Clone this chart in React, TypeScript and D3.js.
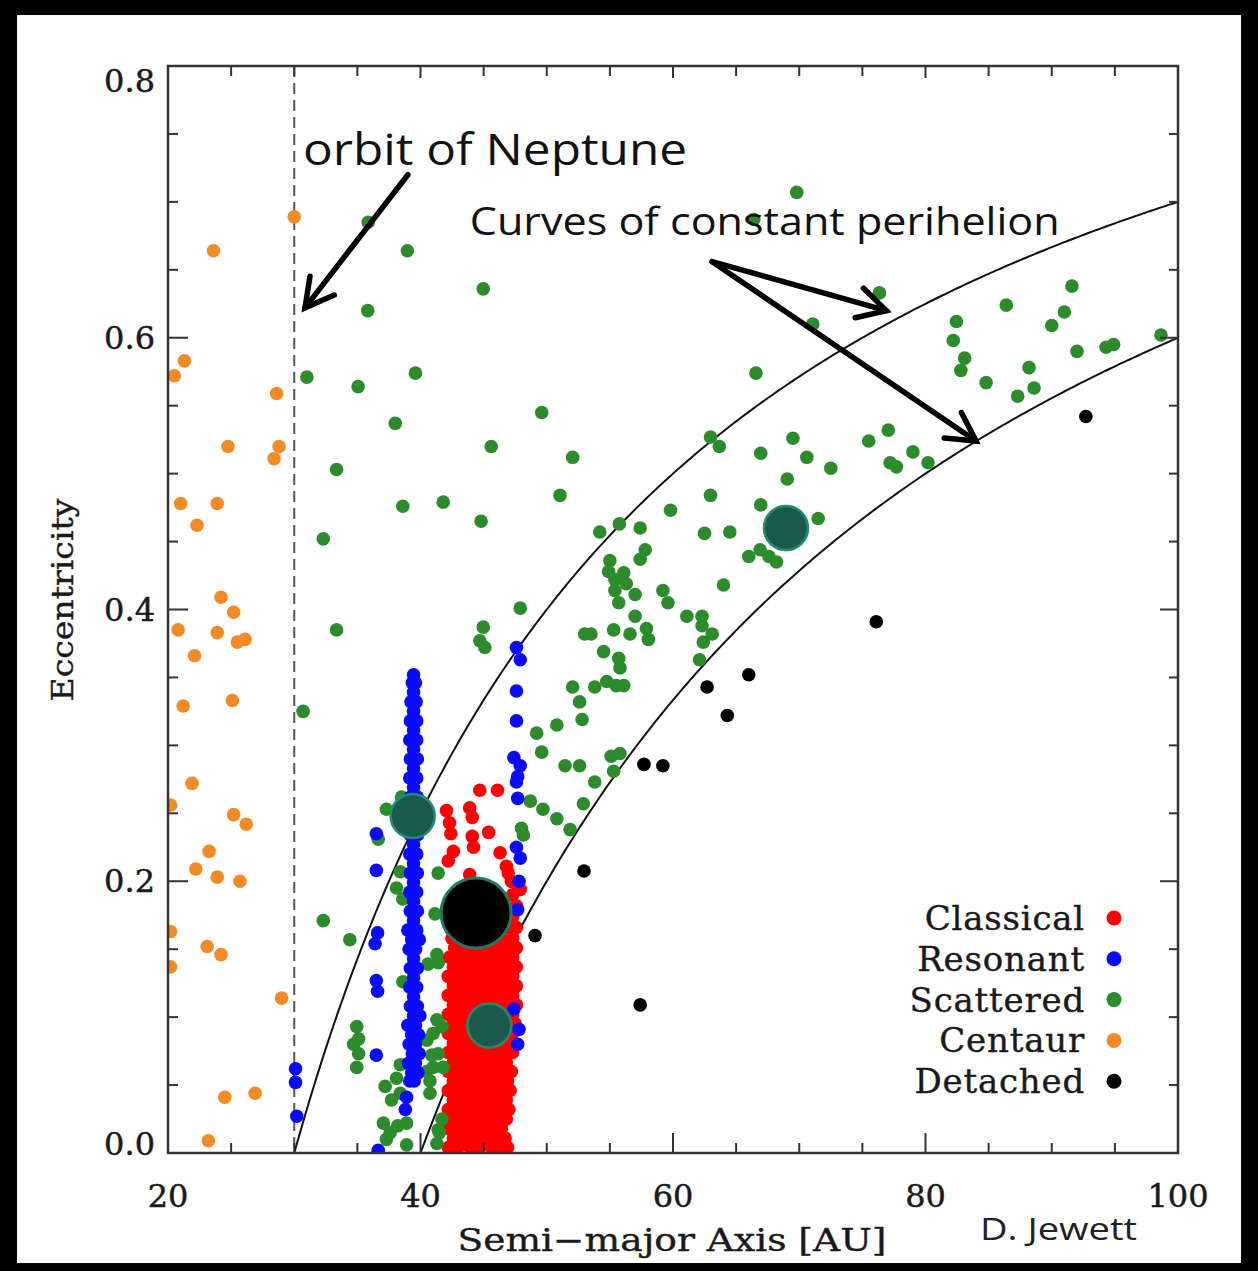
import React from "react";
import * as d3 from "d3";

// ---------------- data ----------------
const xMajorTicks = [20, 40, 60, 80, 100];
const xMinorTicks = [25, 30, 35, 45, 50, 55, 65, 70, 75, 85, 90, 95];
const yMajorTicks = [0, 0.2, 0.4, 0.6, 0.8];
const yMinorTicks = [0.05, 0.1, 0.15, 0.25, 0.3, 0.35, 0.45, 0.5, 0.55, 0.65, 0.7, 0.75];
const perihelionCurves = [30, 40];
const neptuneOrbit = 30;
const categories = ["Classical", "Resonant", "Scattered", "Centaur", "Detached"];

// Classical belt: sparse upper members [a, e]
const classicalSparse: [number, number][] = [
  [44.7, 0.267], [46.1, 0.267], [42.06, 0.252], [42.3, 0.243], [43.9, 0.254], [44.1, 0.247],
  [42.4, 0.235], [44.1, 0.233], [45.4, 0.236], [44.2, 0.225], [42.6, 0.222], [42.2, 0.215],
  [46.3, 0.221], [46.8, 0.211], [46.95, 0.206], [43.9, 0.205], [47.2, 0.2], [47.6, 0.199], [47.9, 0.194],
];
// Classical belt: dense core, listed row by row (e, then the a values in that row)
const classicalCore: [number, number[]][] = [
  [0.004, [42.2, 43.0, 43.9, 44.7, 45.6, 46.4, 46.9]],
  [0.011, [42.6, 43.5, 44.3, 45.1, 46.0, 46.7]],
  [0.018, [42.2, 43.1, 43.9, 44.8, 45.6, 46.4]],
  [0.025, [42.5, 43.4, 44.3, 45.2, 46.0, 46.8]],
  [0.032, [42.2, 43.0, 43.9, 44.7, 45.6, 46.5, 47.0]],
  [0.039, [42.6, 43.5, 44.3, 45.1, 46.0, 46.8]],
  [0.046, [42.2, 43.1, 43.9, 44.8, 45.6, 46.4, 47.1]],
  [0.053, [42.6, 43.4, 44.3, 45.2, 46.0, 46.9]],
  [0.06, [42.2, 43.0, 43.9, 44.7, 45.6, 46.5, 47.2]],
  [0.067, [42.6, 43.5, 44.3, 45.1, 46.0, 46.8]],
  [0.074, [42.2, 43.1, 43.9, 44.8, 45.6, 46.4, 47.3]],
  [0.081, [42.6, 43.4, 44.3, 45.2, 46.0, 46.9]],
  [0.088, [42.2, 43.0, 43.9, 44.7, 45.6, 46.5, 47.3]],
  [0.095, [42.6, 43.5, 44.3, 45.1, 46.0, 46.8, 47.5]],
  [0.102, [42.2, 43.1, 43.9, 44.8, 45.6, 46.4, 47.3]],
  [0.109, [42.6, 43.4, 44.3, 45.2, 46.0, 46.9, 47.6]],
  [0.116, [42.2, 43.0, 43.9, 44.7, 45.6, 46.5, 47.3]],
  [0.123, [42.6, 43.5, 44.3, 45.1, 46.0, 46.8, 47.6]],
  [0.13, [42.2, 43.1, 43.9, 44.8, 45.6, 46.4, 47.3]],
  [0.137, [42.6, 43.4, 44.3, 45.2, 46.0, 46.9, 47.6]],
  [0.144, [42.3, 43.0, 43.9, 44.7, 45.6, 46.5, 47.3]],
  [0.151, [42.7, 43.5, 44.3, 45.1, 46.0, 46.8, 47.6]],
  [0.158, [42.5, 43.1, 43.9, 44.8, 45.6, 46.4, 47.3]],
  [0.166, [46.9, 47.6]],
  [0.174, [47.3]],
  [0.182, [47.6]],
  [0.19, [47.3]],
];

// Resonant: 3:2 column near 39.4 AU, listed row by row (e, then a values)
const resonantColumn: [number, number[]][] = [
  [0.352, [39.45]], [0.346, [39.35, 39.6]], [0.339, [39.45]], [0.332, [39.25, 39.65]], [0.325, [39.45]],
  [0.318, [39.2, 39.7]], [0.311, [39.45]], [0.304, [39.15, 39.7]], [0.297, [39.45]], [0.29, [39.2, 39.75]],
  [0.283, [39.45]], [0.276, [39.15, 39.7]], [0.269, [39.45]], [0.262, [39.2, 39.75]], [0.255, [39.45]],
  [0.248, [39.15, 39.7]], [0.241, [39.45]], [0.234, [39.2, 39.75]], [0.227, [39.45]], [0.22, [39.15, 39.7]],
  [0.213, [39.45]], [0.206, [39.2, 39.75]], [0.199, [39.45]], [0.192, [39.15, 39.7]], [0.185, [39.45]],
  [0.178, [39.2, 39.75]], [0.171, [39.45]], [0.164, [39.0, 39.7]], [0.157, [39.3, 39.9]], [0.15, [39.1, 39.6]],
  [0.143, [39.45]], [0.136, [39.2, 39.75]], [0.129, [39.45]], [0.122, [39.15, 39.7]], [0.115, [39.45]],
  [0.108, [39.2, 39.75]], [0.101, [39.45, 39.95]], [0.094, [39.0, 39.6]], [0.087, [39.3, 39.85]],
  [0.08, [39.1, 39.6]], [0.073, [39.35, 39.9]], [0.066, [39.05, 39.6]], [0.059, [39.3, 39.8]],
  [0.053, [39.15, 39.5]],
];
// Resonant: other resonances [a, e]
const resonantOther: [number, number][] = [
  [47.6, 0.372], [47.9, 0.363], [47.6, 0.34], [47.6, 0.318], [47.4, 0.291], [47.9, 0.285], [47.7, 0.277],
  [47.6, 0.273], [47.7, 0.261], [36.5, 0.235], [36.5, 0.208], [47.6, 0.225], [47.9, 0.217], [47.8, 0.2],
  [47.7, 0.179], [36.6, 0.162], [36.4, 0.154], [36.5, 0.127], [36.6, 0.119], [47.4, 0.106], [47.8, 0.091],
  [47.7, 0.08], [36.5, 0.072], [30.1, 0.062], [30.1, 0.052], [30.2, 0.027], [38.9, 0.041], [38.8, 0.032],
  [36.65, 0.002],
];

const scattered: [number, number][] = [
  [35.86, 0.685], [38.96, 0.664], [44.97, 0.636], [35.82, 0.62], [31.0, 0.571], [35.06, 0.564], [39.6, 0.574],
  [49.6, 0.545], [38.0, 0.537], [45.6, 0.52], [33.35, 0.503], [52.05, 0.512], [38.6, 0.476], [41.8, 0.479],
  [51.05, 0.484], [44.8, 0.465], [32.3, 0.452], [47.9, 0.401], [44.97, 0.387], [33.35, 0.385], [44.7, 0.377],
  [45.1, 0.372], [30.7, 0.325], [69.8, 0.707], [66.4, 0.687],
  [71.07, 0.61], [66.57, 0.574], [62.97, 0.527], [63.67, 0.52], [66.95, 0.515], [69.5, 0.526], [70.6, 0.512],
  [72.5, 0.504], [69.05, 0.496], [62.97, 0.484], [66.95, 0.477], [71.5, 0.467], [59.8, 0.473], [62.5, 0.456],
  [64.5, 0.457], [54.2, 0.457], [55.75, 0.463], [57.4, 0.46], [57.8, 0.444], [57.4, 0.437], [55.0, 0.436],
  [54.9, 0.428], [56.1, 0.427], [55.4, 0.422], [56.3, 0.419], [55.4, 0.414], [55.7, 0.405], [57.0, 0.411],
  [59.2, 0.414], [59.6, 0.405], [57.0, 0.395], [57.9, 0.386], [58.05, 0.378], [55.3, 0.385], [56.6, 0.382],
  [53.0, 0.382], [53.5, 0.382], [54.5, 0.369], [55.7, 0.364], [55.8, 0.357], [61.1, 0.395], [62.3, 0.395],
  [62.3, 0.388], [63.1, 0.382], [62.4, 0.376], [62.1, 0.363], [64.0, 0.418], [66.0, 0.439], [66.9, 0.444],
  [67.6, 0.439], [68.2, 0.435], [55.5, 0.344], [56.1, 0.344], [54.75, 0.347], [53.8, 0.343], [52.05, 0.343],
  [52.6, 0.332], [52.8, 0.319], [50.8, 0.315], [49.2, 0.309], [49.6, 0.295], [51.45, 0.285], [52.6, 0.285],
  [55.1, 0.292], [55.8, 0.294], [55.3, 0.281], [53.8, 0.273], [52.9, 0.257], [48.7, 0.259], [49.7, 0.253],
  [50.8, 0.246], [51.85, 0.238], [48.0, 0.239], [48.15, 0.234],
  [76.35, 0.633], [82.45, 0.612], [82.2, 0.598], [83.1, 0.585], [82.8, 0.576], [86.4, 0.624], [91.6, 0.638],
  [91.0, 0.619], [90.0, 0.609], [92.0, 0.59], [94.3, 0.593], [94.9, 0.595], [98.65, 0.602], [84.8, 0.567],
  [88.2, 0.578], [88.6, 0.563], [87.3, 0.557], [77.05, 0.532], [75.5, 0.524], [77.2, 0.508], [77.7, 0.505],
  [79.0, 0.516], [80.2, 0.508],
  [37.3, 0.253], [38.5, 0.262], [36.65, 0.231], [38.4, 0.207], [41.4, 0.206], [38.1, 0.195], [38.6, 0.187],
  [32.3, 0.171], [34.4, 0.157], [41.15, 0.176], [41.3, 0.146], [40.6, 0.139], [41.4, 0.14], [38.6, 0.126],
  [41.3, 0.098], [41.7, 0.093], [41.0, 0.088], [34.95, 0.093], [35.1, 0.084], [35.1, 0.073], [34.95, 0.063],
  [34.7, 0.08], [40.5, 0.083], [40.9, 0.072], [41.0, 0.063], [40.75, 0.053], [40.5, 0.06], [38.4, 0.065],
  [38.1, 0.055], [37.2, 0.049], [37.7, 0.039], [38.4, 0.044], [40.75, 0.044], [37.06, 0.022], [37.6, 0.015],
  [38.2, 0.02], [38.9, 0.022], [38.9, 0.006], [41.3, 0.007], [41.7, 0.025], [41.4, 0.017], [37.3, 0.01],
  [41.4, 0.073], [41.8, 0.063], [41.5, 0.015],
];

const centaurs: [number, number][] = [
  [30.0, 0.689], [23.6, 0.664], [21.3, 0.583], [20.5, 0.572], [28.6, 0.559], [24.75, 0.52], [28.8, 0.52],
  [28.4, 0.511], [21.0, 0.478], [23.9, 0.478], [22.3, 0.462], [24.2, 0.409], [25.2, 0.398], [20.8, 0.385],
  [23.9, 0.383], [25.5, 0.376], [26.1, 0.378], [22.1, 0.366], [21.2, 0.329], [25.1, 0.333], [21.9, 0.272],
  [20.2, 0.256], [25.2, 0.249], [26.2, 0.242], [23.25, 0.222], [22.2, 0.209], [23.9, 0.203], [25.7, 0.2],
  [20.2, 0.163], [23.1, 0.152], [24.2, 0.146], [20.2, 0.137], [29.0, 0.114], [24.5, 0.041], [26.9, 0.044],
  [23.2, 0.009],
];

const detached: [number, number][] = [
  [92.7, 0.542], [76.1, 0.391], [62.7, 0.343], [66.0, 0.352], [64.3, 0.322], [57.7, 0.286], [59.2, 0.285],
  [52.95, 0.2075], [49.07, 0.16], [57.4, 0.109],
];

// Largest bodies
const largeBodies: { a: number; e: number; kind: "giant" | "dwarf" }[] = [
  { a: 44.4, e: 0.1766, kind: "giant" },
  { a: 39.38, e: 0.248, kind: "dwarf" },
  { a: 45.45, e: 0.0938, kind: "dwarf" },
  { a: 68.95, e: 0.46, kind: "dwarf" },
];

// Annotation arrows in data units [a, e]
const annotationArrows: { from: [number, number]; to: [number, number] }[] = [
  { from: [39.0, 0.72], to: [30.85, 0.622] },
  { from: [63.1, 0.656], to: [76.9, 0.62] },
  { from: [63.1, 0.656], to: [84.0, 0.524] },
];

// ---------------- styles ----------------
const colors: Record<string, string> = {
  Classical: "#ff0000",
  Resonant: "#0a0aff",
  Scattered: "#2c8c2c",
  Centaur: "#f28a26",
  Detached: "#000000",
};
const serif = "'DejaVu Serif', serif";
const sans = "'Open Sans', 'Liberation Sans', sans-serif";

export default function App() {
  const W = 1258, H = 1271;
  const left = 168, right = 1178, top = 66, bottom = 1153;
  const x = d3.scaleLinear().domain([20, 100]).range([left, right]);
  const y = d3.scaleLinear().domain([0, 0.8]).range([bottom, top]);
  const r = 6.8;

  const classical: [number, number][] = [
    ...classicalCore.flatMap(([e, as]) => as.map((a) => [a, e] as [number, number])),
    ...classicalSparse,
  ];
  const resonant: [number, number][] = [
    ...resonantColumn.flatMap(([e, as]) => as.map((a) => [a, e] as [number, number])),
    ...resonantOther,
  ];

  const line = d3.line<[number, number]>().x((d) => x(d[0])).y((d) => y(d[1]));
  const curvePaths = perihelionCurves.map((q) => {
    const pts: [number, number][] = d3.range(q, 100.001, 0.2).map((a) => [a, 1 - q / a]);
    return line(pts) as string;
  });

  const arrowHead = (fx: number, fy: number, tx: number, ty: number) => {
    const ang = Math.atan2(ty - fy, tx - fx);
    const L = 32, spread = 0.5;
    const p1 = [tx - L * Math.cos(ang - spread), ty - L * Math.sin(ang - spread)];
    const p2 = [tx - L * Math.cos(ang + spread), ty - L * Math.sin(ang + spread)];
    return `M${p1[0]},${p1[1]} L${tx},${ty} L${p2[0]},${p2[1]}`;
  };

  const series: { name: string; pts: [number, number][] }[] = [
    { name: "Classical", pts: classical },
    { name: "Scattered", pts: scattered },
    { name: "Resonant", pts: resonant },
    { name: "Centaur", pts: centaurs },
    { name: "Detached", pts: detached },
  ];

  const yLabelPos = (v: number) => Math.min(Math.max(y(v) + 11, top + 26), bottom + 2);

  return (
    <svg width={W} height={H} style={{ position: "absolute", left: 0, top: 0 }}>
      <rect x={0} y={0} width={W} height={H} fill="#000" />
      <rect x={17} y={15} width={1224} height={1248} fill="#fff" />
      <defs>
        <clipPath id="plotClip">
          <rect x={left} y={top} width={right - left} height={bottom - top} />
        </clipPath>
      </defs>

      {/* Neptune orbit */}
      <line x1={x(neptuneOrbit)} x2={x(neptuneOrbit)} y1={top} y2={bottom} stroke="#555" strokeWidth={2} strokeDasharray="11 6" />

      {/* constant perihelion curves */}
      <g clipPath="url(#plotClip)">
        {curvePaths.map((p, i) => (
          <path key={i} d={p} fill="none" stroke="#111" strokeWidth={2} />
        ))}
      </g>

      {/* points */}
      <g clipPath="url(#plotClip)">
        {series.map((s) => (
          <g key={s.name} fill={colors[s.name]}>
            {s.pts.map((d, i) => (
              <circle key={i} cx={x(d[0])} cy={y(d[1])} r={r} />
            ))}
          </g>
        ))}
        {largeBodies.map((b, i) => (
          <circle
            key={i}
            cx={x(b.a)}
            cy={y(b.e)}
            r={b.kind === "giant" ? 35 : 22}
            fill={b.kind === "giant" ? "#000" : "#1b5a4a"}
            stroke={b.kind === "giant" ? "#1f7a62" : "#238a6e"}
            strokeWidth={b.kind === "giant" ? 3 : 2.5}
          />
        ))}
      </g>

      {/* axes box */}
      <rect x={left} y={top} width={right - left} height={bottom - top} fill="none" stroke="#333" strokeWidth={2.5} />
      <g stroke="#333" strokeWidth={2}>
        {xMajorTicks.map((t) => (
          <g key={"xM" + t}>
            <line x1={x(t)} x2={x(t)} y1={bottom} y2={bottom - 20} />
            <line x1={x(t)} x2={x(t)} y1={top} y2={top + 12} />
          </g>
        ))}
        {xMinorTicks.map((t) => (
          <g key={"xm" + t}>
            <line x1={x(t)} x2={x(t)} y1={bottom} y2={bottom - 10} />
            <line x1={x(t)} x2={x(t)} y1={top} y2={top + 10} />
          </g>
        ))}
        {yMajorTicks.map((t) => (
          <g key={"yM" + t}>
            <line x1={left} x2={left + 20} y1={y(t)} y2={y(t)} />
            <line x1={right} x2={right - 18} y1={y(t)} y2={y(t)} />
          </g>
        ))}
        {yMinorTicks.map((t) => (
          <g key={"ym" + t}>
            <line x1={left} x2={left + 10} y1={y(t)} y2={y(t)} />
            <line x1={right} x2={right - 9} y1={y(t)} y2={y(t)} />
          </g>
        ))}
      </g>

      {/* tick labels */}
      <g fontFamily={serif} fontSize={32} fill="#1a1a1a" stroke="#1a1a1a" strokeWidth={0.5}>
        {xMajorTicks.map((t) => (
          <text key={"xl" + t} x={x(t)} y={1207} textAnchor="middle">{t}</text>
        ))}
        {yMajorTicks.map((t) => (
          <text key={"yl" + t} x={155} y={yLabelPos(t)} textAnchor="end">{t.toFixed(1)}</text>
        ))}
      </g>

      {/* axis titles */}
      <text x={672} y={1251} textAnchor="middle" fontFamily={serif} fontSize={31} fill="#1a1a1a" stroke="#1a1a1a" strokeWidth={0.4} textLength={429} lengthAdjust="spacingAndGlyphs">
        Semi−major Axis [AU]
      </text>
      <text transform="translate(73,600) rotate(-90)" textAnchor="middle" fontFamily={serif} fontSize={30} fill="#1a1a1a" stroke="#1a1a1a" strokeWidth={0.4} textLength={203} lengthAdjust="spacingAndGlyphs">
        Eccentricity
      </text>
      <text x={980} y={1240} fontFamily={sans} fontSize={31} fill="#222" textLength={157} lengthAdjust="spacingAndGlyphs">
        D. Jewett
      </text>

      {/* annotations */}
      <text x={x(30.7)} y={y(0.727)} fontFamily={sans} fontSize={43} fill="#111" textLength={384} lengthAdjust="spacingAndGlyphs">
        orbit of Neptune
      </text>
      <text x={x(43.9)} y={y(0.6756)} fontFamily={sans} fontSize={39} fill="#111" textLength={590} lengthAdjust="spacingAndGlyphs">
        Curves of constant perihelion
      </text>
      <g stroke="#000" strokeWidth={5.5} fill="none" strokeLinecap="round" strokeLinejoin="miter">
        {annotationArrows.map((ar, i) => {
          const fx = x(ar.from[0]), fy = y(ar.from[1]), tx = x(ar.to[0]), ty = y(ar.to[1]);
          return (
            <g key={i}>
              <line x1={fx} y1={fy} x2={tx} y2={ty} />
              <path d={arrowHead(fx, fy, tx, ty)} />
            </g>
          );
        })}
      </g>

      {/* legend */}
      <g fontFamily={serif} fontSize={34} fill="#1a1a1a" stroke="#1a1a1a" strokeWidth={0.4} letterSpacing={0.8}>
        {categories.map((c, i) => (
          <text key={c} x={1085} y={930 + i * 40.8} textAnchor="end">{c}</text>
        ))}
      </g>
      {categories.map((c, i) => (
        <circle key={"lc" + c} cx={1114} cy={918 + i * 40.8} r={7.5} fill={colors[c]} />
      ))}
    </svg>
  );
}
